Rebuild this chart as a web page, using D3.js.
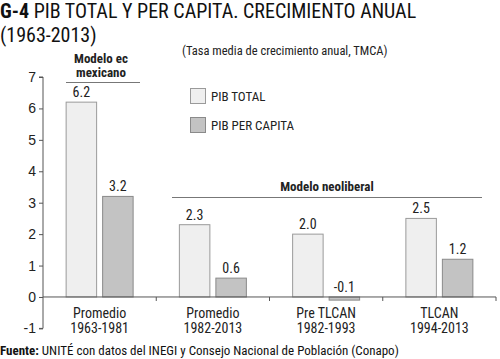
<!DOCTYPE html>
<html><head><meta charset="utf-8">
<script src="https://cdn.jsdelivr.net/npm/d3@7"></script>
<style>
body{margin:0;background:#fff;}
svg{display:block;font-family:"Liberation Sans Narrow","Roboto Condensed","DejaVu Sans Condensed",sans-serif;}
</style></head>
<body>
<svg id="c" width="500" height="359"></svg>
<script>
const categories = [["Promedio","1963-1981"],["Promedio","1982-2013"],["Pre TLCAN","1982-1993"],["TLCAN","1994-2013"]];
const series = ["PIB TOTAL","PIB PER CAPITA"];
const pibTotal = [6.2, 2.3, 2.0, 2.5];
const pibPerCapita = [3.2, 0.6, -0.1, 1.2];
const yTicks = [-1,0,1,2,3,4,5,6,7];
const valueLabels = [["6.2","3.2"],["2.3","0.6"],["2.0","-0.1"],["2.5","1.2"]];

const svg = d3.select("#c");
const fills = ["#efefef","#c3c3c3"];
const strokes = ["#9a9a9a","#8a8a8a"];

const catKeys = categories.map((d,i)=>i);
const x0 = d3.scaleBand().domain(catKeys).range([43,496]).padding(0);
const x1 = d3.scaleBand().domain([0,1]).range([0,x0.bandwidth()]).paddingInner(0.137).paddingOuter(0.62);
const y = d3.scaleLinear().domain([-1,7]).range([328.4,77]);

// y axis
const yAxis = d3.axisLeft(y).tickValues(yTicks).tickSize(4).tickFormat(d=>String(d));
const ga = svg.append("g").attr("transform","translate(43,0)").call(yAxis);
ga.select(".domain").attr("stroke","#555").attr("d",`M-4,${y(7)}H0V${y(-1)}H-4`);
ga.selectAll(".tick line").attr("stroke","#555");
ga.selectAll(".tick text").attr("font-size",14).attr("fill","#222").attr("x",-7);

// bars
const data = categories.map((c,i)=>[pibTotal[i], pibPerCapita[i]]);
const groups = svg.append("g").selectAll("g").data(data).join("g")
  .attr("transform",(d,i)=>`translate(${x0(i)},0)`);
groups.selectAll("rect").data(d=>d).join("rect")
  .attr("x",(d,j)=>x1(j)+0.5)
  .attr("width",x1.bandwidth()-1)
  .attr("y",d=>Math.min(y(d),y(0)))
  .attr("height",d=>Math.abs(y(d)-y(0)))
  .attr("fill",(d,j)=>fills[j]).attr("stroke",(d,j)=>strokes[j]).attr("stroke-width",1);
groups.selectAll("text").data((d,i)=>d.map((v,j)=>({v,j,l:valueLabels[i][j]}))).join("text")
  .attr("x",d=>x1(d.j)+x1.bandwidth()/2)
  .attr("y",d=>Math.min(y(d.v),y(0))-5)
  .attr("text-anchor","middle").attr("font-size",14).attr("fill","#222")
  .text(d=>d.l);

// zero line with ticks
svg.append("line").attr("x1",43).attr("x2",496).attr("y1",y(0)).attr("y2",y(0)).attr("stroke","#555");
svg.append("g").selectAll("line").data(catKeys.slice(1).concat([4])).join("line")
  .attr("x1",d=>d<4?x0(d):496).attr("x2",d=>d<4?x0(d):496)
  .attr("y1",y(0)).attr("y2",y(0)+4).attr("stroke","#555");

// category labels
const cl = svg.append("g").selectAll("text").data(categories).join("text")
  .attr("text-anchor","middle").attr("font-size",14).attr("fill","#222")
  .attr("transform",(d,i)=>`translate(${x0(i)+x0.bandwidth()/2},318)`);
cl.append("tspan").attr("x",0).attr("y",0).text(d=>d[0]);
cl.append("tspan").attr("x",0).attr("y",15).text(d=>d[1]);

// group annotations
svg.append("text").attr("x",101).attr("y",63).attr("text-anchor","middle").attr("font-size",13).attr("font-weight","bold").attr("fill","#222").text("Modelo ec");
svg.append("text").attr("x",101).attr("y",77).attr("text-anchor","middle").attr("font-size",13).attr("font-weight","bold").attr("fill","#222").text("mexicano");
svg.append("line").attr("x1",66).attr("x2",140).attr("y1",82.5).attr("y2",82.5).attr("stroke","#777");
svg.append("text").attr("x",327).attr("y",191).attr("text-anchor","middle").attr("font-size",13).attr("font-weight","bold").attr("fill","#222").text("Modelo neoliberal");
svg.append("line").attr("x1",172).attr("x2",482).attr("y1",197.5).attr("y2",197.5).attr("stroke","#777");

// legend
const lg = svg.append("g").selectAll("g").data(series).join("g")
  .attr("transform",(d,i)=>`translate(190,${88+i*29})`);
lg.append("rect").attr("x",0.5).attr("y",0.5).attr("width",15).attr("height",15)
  .attr("fill",(d,i)=>fills[i]).attr("stroke",(d,i)=>strokes[i]);
lg.append("text").attr("x",21).attr("y",13).attr("font-size",13).attr("fill","#222").text(d=>d);

// titles
const t = svg.append("text").attr("x",0).attr("y",18).attr("font-size",20).attr("fill","#111");
t.append("tspan").attr("font-weight","bold").text("G-4");
t.append("tspan").text(" PIB TOTAL Y PER CAPITA. CRECIMIENTO ANUAL");
svg.append("text").attr("x",0).attr("y",42).attr("font-size",20).attr("fill","#111").text("(1963-2013)");
svg.append("text").attr("x",182).attr("y",55).attr("font-size",12.5).attr("fill","#222").text("(Tasa media de crecimiento anual, TMCA)");
const f = svg.append("text").attr("x",0).attr("y",355).attr("font-size",13).attr("fill","#111");
f.append("tspan").attr("font-weight","bold").text("Fuente:");
f.append("tspan").text(" UNITÉ con datos del INEGI y Consejo Nacional de Población (Conapo)");
</script>
</body></html>
